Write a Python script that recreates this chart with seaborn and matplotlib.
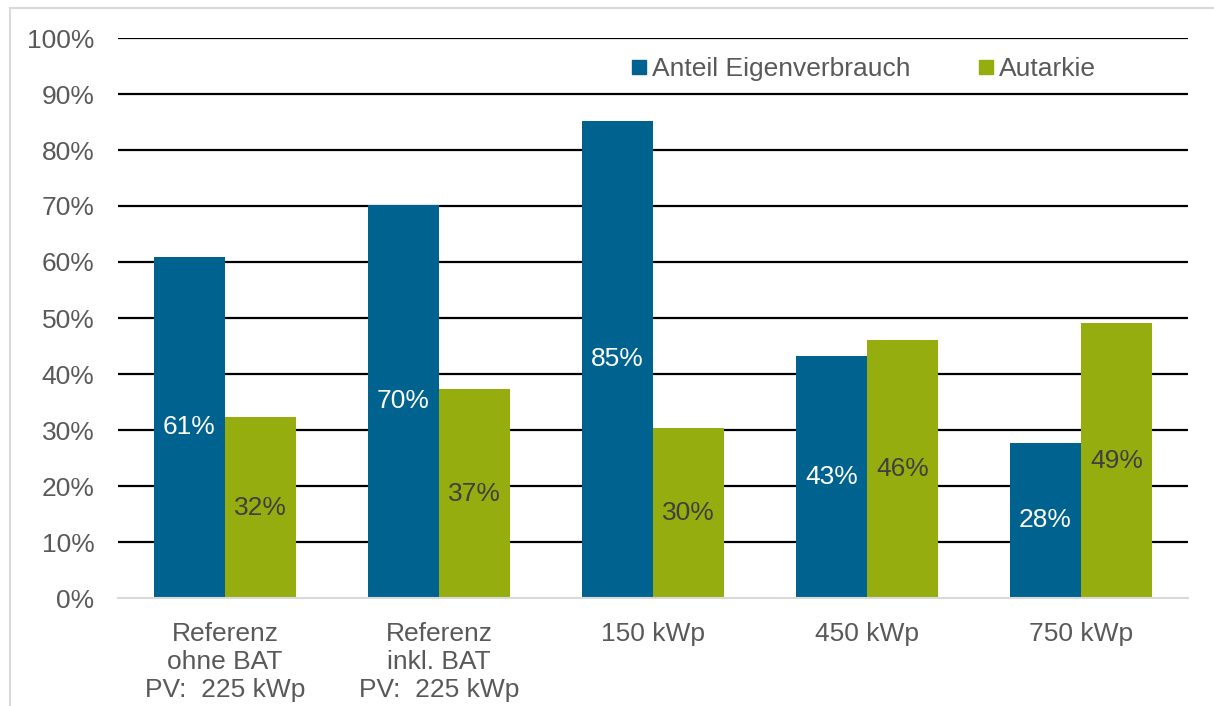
import numpy as np
import pandas as pd
import seaborn as sns
import matplotlib.pyplot as plt
from matplotlib.lines import Line2D

categories = ['Referenz\nohne BAT\nPV:  225 kWp', 'Referenz\ninkl. BAT\nPV:  225 kWp',
              '150 kWp', '450 kWp', '750 kWp']
eigenverbrauch = [60.9, 70.2, 85.2, 43.2, 27.7]
autarkie = [32.3, 37.3, 30.4, 46.1, 49.1]
series = ['Anteil Eigenverbrauch', 'Autarkie']
colors = ['#00628E', '#96AD0F']
label_colors = ['white', '#404040']

df = pd.DataFrame({
    'Kategorie': categories * 2,
    'Wert': eigenverbrauch + autarkie,
    'Serie': [series[0]] * 5 + [series[1]] * 5,
})

sns.set_style('white')
plt.rcParams['font.family'] = ['Liberation Sans', 'DejaVu Sans']
fs = 19

fig = plt.figure(figsize=(12.14, 7.06), dpi=100)
ax = fig.add_axes([118 / 1214, 108 / 706, 1070 / 1214, 560 / 706])

sns.barplot(data=df, x='Kategorie', y='Wert', hue='Serie', palette=colors,
            width=0.664, gap=0, saturation=1, ax=ax, zorder=3, linewidth=0)

ax.set_ylim(0, 100)
ax.set_xlim(-0.5, 4.5)
ax.set_yticks(np.arange(0, 101, 10))
ax.set_yticklabels([f'{v}%' for v in range(0, 101, 10)])
ax.set_xlabel('')
ax.set_ylabel('')
for y in range(10, 101, 10):
    ax.axhline(y, color='black', lw=1.6, zorder=1)

for s in ['top', 'right', 'left']:
    ax.spines[s].set_visible(False)
ax.spines['bottom'].set_color('#d9d9d9')
ax.spines['bottom'].set_linewidth(1.5)
ax.spines['bottom'].set_zorder(4)

ax.tick_params(axis='y', length=0, pad=17, labelsize=fs, labelcolor='#595959')
ax.tick_params(axis='x', length=0, pad=17, labelsize=fs, labelcolor='#595959')
for lbl in ax.get_xticklabels():
    lbl.set_linespacing(1.22)

for container, col in zip(ax.containers, label_colors):
    ax.bar_label(container, labels=[f'{v:.0f}%' for v in container.datavalues],
                 label_type='center', color=col, fontsize=fs, zorder=5)

handles = [Line2D([], [], marker='s', ls='', markersize=10, color=c) for c in colors]
ax.legend(handles, series, ncol=2, frameon=False, loc='center left',
          bbox_to_anchor=(0.468, 0.944), borderpad=0, handlelength=0.55,
          handletextpad=0.2, columnspacing=2.6, fontsize=fs, labelcolor='#595959')

# light frame of the chart area
fig.add_artist(Line2D([10 / 1214, 10 / 1214], [0, 1 - 8 / 706], color='#d9d9d9', lw=1.5))
fig.add_artist(Line2D([10 / 1214, 1], [1 - 8 / 706, 1 - 8 / 706], color='#d9d9d9', lw=1.5))

fig.savefig('out.png', dpi=100)
